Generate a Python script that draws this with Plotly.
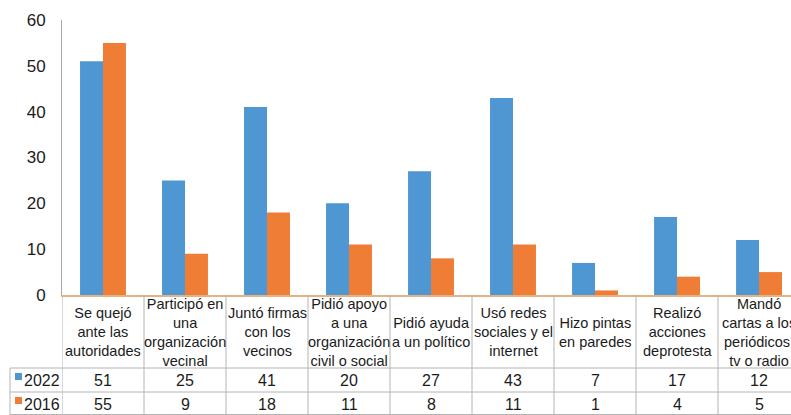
import plotly.graph_objects as go

categories = [
    "Se quejó<br>ante las<br>autoridades",
    "Participó en<br>una<br>organización<br>vecinal",
    "Juntó firmas<br>con los<br>vecinos",
    "Pidió apoyo<br>a una<br>organización<br>civil o social",
    "Pidió ayuda<br>a un político",
    "Usó redes<br>sociales y el<br>internet",
    "Hizo pintas<br>en paredes",
    "Realizó<br>acciones<br>deprotesta",
    "Mandó<br>cartas a los<br>periódicos,<br>tv o radio",
]
series_names = ["2022", "2016"]
values_2022 = [51, 25, 41, 20, 27, 43, 7, 17, 12]
values_2016 = [55, 9, 18, 11, 8, 11, 1, 4, 5]
colors = ["#4f97d2", "#ef7d36"]

W, H = 791, 415
L, R, T, B = 62, 0, 20, 120
PW, PH = W - L - R, H - T - B
FONT = "Liberation Sans, Arial, sans-serif"
TXT = "#1b1b1b"
GRID = "#b4b4b4"


def py(p):
    return (H - B - p) / PH


def px(p):
    return (p - L) / PW


idx = list(range(len(categories)))
fig = go.Figure()
for name, vals, col in zip(series_names, [values_2022, values_2016], colors):
    fig.add_trace(go.Bar(x=idx, y=vals, name=name, marker=dict(color=col, line=dict(width=0))))

shapes = []
annotations = []
# vertical separators of the table
for i in range(len(categories) + 1):
    shapes.append(dict(type="line", xref="x", yref="paper", x0=i - 0.5, x1=i - 0.5,
                       y0=0, y1=py(H), line=dict(color=GRID, width=1)))
# horizontal lines
for yp in [368, 392, 414.5]:
    shapes.append(dict(type="line", xref="paper", yref="paper", x0=px(10), x1=1,
                       y0=py(yp), y1=py(yp), line=dict(color=GRID, width=1)))
shapes.append(dict(type="line", xref="paper", yref="paper", x0=px(10), x1=px(10),
                   y0=py(368), y1=py(H), line=dict(color=GRID, width=1)))

# header labels
for i, c in zip(idx, categories):
    annotations.append(dict(x=i, y=py(332), xref="x", yref="paper", text=c, showarrow=False,
                            xanchor="center", yanchor="middle", align="center",
                            font=dict(size=14.5, color=TXT, family=FONT)))
# data rows
row_centers = [380, 404]
for name, vals, col, yc in zip(series_names, [values_2022, values_2016], colors, row_centers):
    shapes.append(dict(type="rect", xref="paper", yref="paper", x0=px(15), x1=px(22),
                       y0=py(yc - 7), y1=py(yc), fillcolor=col, line=dict(width=0)))
    annotations.append(dict(x=px(22), y=py(yc), xref="paper", yref="paper", text=name,
                            showarrow=False, xanchor="left", yanchor="middle",
                            font=dict(size=16, color=TXT, family=FONT)))
    for i, v in zip(idx, vals):
        annotations.append(dict(x=i, y=py(yc), xref="x", yref="paper", text=str(v),
                                showarrow=False, xanchor="center", yanchor="middle",
                                font=dict(size=16, color=TXT, family=FONT)))

fig.update_layout(
    width=W, height=H,
    margin=dict(l=L, r=R, t=T, b=B, pad=0),
    paper_bgcolor="white", plot_bgcolor="white",
    barmode="group", bargap=0.44, bargroupgap=0,
    showlegend=False,
    shapes=shapes, annotations=annotations,
    xaxis=dict(range=[-0.5, 8.39], showticklabels=False, ticks="", showgrid=False,
               zeroline=False, showline=True, linecolor="#e2b387", linewidth=1.5,
               fixedrange=True),
    yaxis=dict(range=[0, 60], dtick=10, tick0=0, showgrid=False, zeroline=False,
               showline=True, linecolor="#a8a8a8", linewidth=1, ticks="",
               ticklabelstandoff=12,
               tickfont=dict(size=17, color=TXT, family=FONT), fixedrange=True),
)

fig.write_html(
    "out.html",
    config={"displayModeBar": False},
    post_script="document.body.style.margin='0px';document.body.style.overflow='hidden';",
)
